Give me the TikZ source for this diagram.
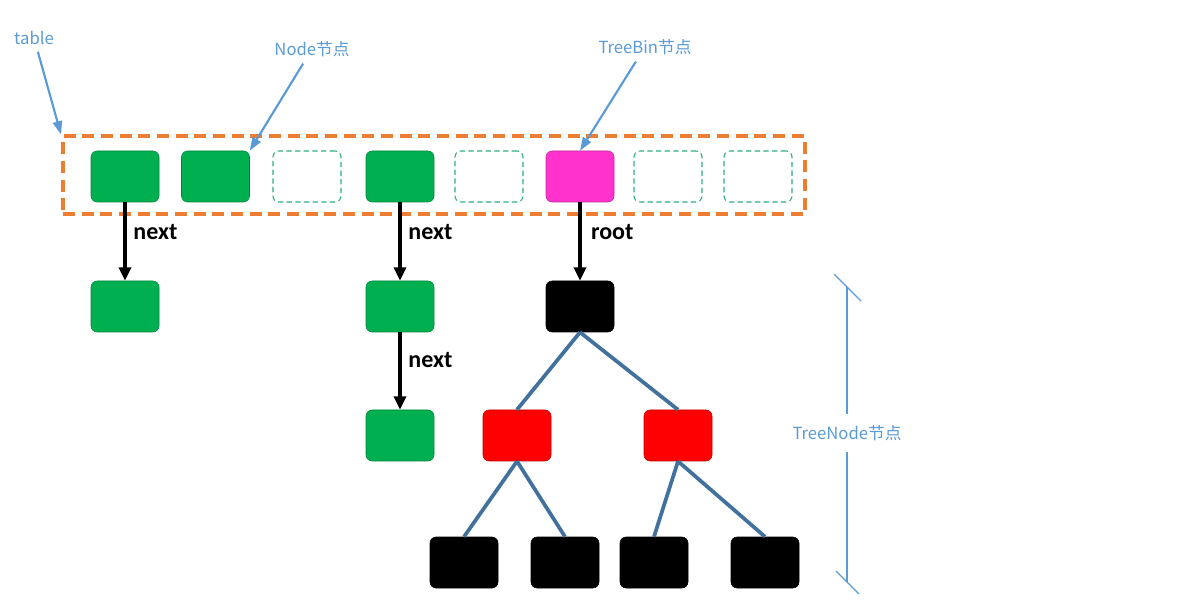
\documentclass[tikz,border=0pt]{standalone}
\usepackage{fontspec}
\setmainfont{Carlito}
\newfontfamily\cjk{Noto Sans CJK SC}
\usepackage{tikz}
\usetikzlibrary{arrows.meta}

\definecolor{binGreen}{HTML}{00B050}
\definecolor{slotGreen}{HTML}{2EAF7D}
\definecolor{binPink}{HTML}{FF33CC}
\definecolor{treeRed}{HTML}{FF0000}
\definecolor{treeEdge}{HTML}{41719C}
\definecolor{noteBlue}{HTML}{5B9BD5}
\definecolor{tableOrange}{HTML}{ED7D31}

\begin{document}
\begin{tikzpicture}[x=0.75pt,y=-0.75pt,
	cell/.style={draw=#1!75!black,fill=#1,minimum width=51pt,minimum height=38.25pt,inner sep=0pt,rounded corners=4.5pt},
	slot/.style={draw=slotGreen,line width=0.8pt,dash pattern=on 4pt off 2.5pt,minimum width=51pt,minimum height=38.25pt,inner sep=0pt,rounded corners=4.5pt},
	note/.style={text=noteBlue,font=\cjk\fontsize{12.5}{14}\selectfont,inner sep=5pt},
	ptr/.style={-{Triangle[length=10pt,width=9pt]},line width=2.6pt,black},
	branch/.style={line width=2.8pt,treeEdge},
	hint/.style={-{Triangle[length=10pt,width=7pt]},line width=1.6pt,noteBlue},
	word/.style={font=\bfseries\fontsize{18}{20}\selectfont,inner sep=0pt}]
	\useasboundingbox (0,0) rectangle (1181,605);
		\draw
		node[draw=tableOrange,line width=3pt,dash pattern=on 9pt off 5pt,minimum width=556.5pt,minimum height=58.5pt] (table) at (434,175.5){}
		node[cell=binGreen] (t1) at (125,176.5){}
		node[cell=binGreen] (t2) at (215.5,176.5){}
		node[slot] (t3) at (307,176.5){}
		node[cell=binGreen] (t4) at (400,176.5){}
		node[slot] (t5) at (489,176.5){}
		node[cell=binPink] (t6) at (580,176.5){}
		node[slot] (t7) at (668,176.5){}
		node[slot] (t8) at (758,176.5){}
		node[cell=binGreen] (n1) at (125,306.5){}
		node[cell=binGreen] (n2) at (400,306.5){}
		node[cell=binGreen] (n3) at (400,435.5){}
		node[cell=black] (root) at (580,306.5){}
		node[cell=treeRed] (red1) at (517,435.5){}
		node[cell=treeRed] (red2) at (678,435.5){}
		node[cell=black] (leaf1) at (464,562.5){}
		node[cell=black] (leaf2) at (565,562.5){}
		node[cell=black] (leaf3) at (654,562.5){}
		node[cell=black] (leaf4) at (765,562.5){};
		\draw [ptr] (t1) -- (n1) node[pos=0.38,right=5pt,word] {next};
		\draw [ptr] (t4) -- (n2) node[pos=0.38,right=5pt,word] {next};
			\draw [ptr] (n2) -- (n3) node[pos=0.36,right=5pt,word] {next};
		\draw [ptr] (t6) -- (root) node[pos=0.38,right=7pt,word] {root};
		\draw [branch] (root.south) -- (red1.north);
		\draw [branch] (root.south) -- (red2.north);
			\draw [branch] (red1.south) -- (leaf1.north);
			\draw [branch] (red1.south) -- (leaf2.north);
			\draw [branch] (red2.south) -- (leaf3.north);
			\draw [branch] (red2.south) -- (leaf4.north);
		\node[note] (tableNote) at (34,38) {table};
		\node[note] (nodeNote) at (312,49) {Node节点};
		\node[note] (binNote) at (645,47) {TreeBin节点};
		\draw [hint] (tableNote) -- (table.north west);
		\draw [hint] (nodeNote) -- (t2.north east);
		\draw [hint] (binNote) -- (t6.north);
		\coordinate (dimTop) at (847,287);
		\coordinate (dimBot) at (847,582);
		\node[note,inner sep=8pt] (dimNote) at (847,433) {TreeNode节点};
		\draw [noteBlue,line width=1pt] (dimTop) -- (dimNote) (dimNote) -- (dimBot);
		\draw [noteBlue,line width=1pt] ([shift={(-13,-13)}]dimTop) -- ([shift={(14,14)}]dimTop);
		\draw [noteBlue,line width=1pt] ([shift={(-11,-11)}]dimBot) -- ([shift={(12,12)}]dimBot);
\end{tikzpicture}
\end{document}
